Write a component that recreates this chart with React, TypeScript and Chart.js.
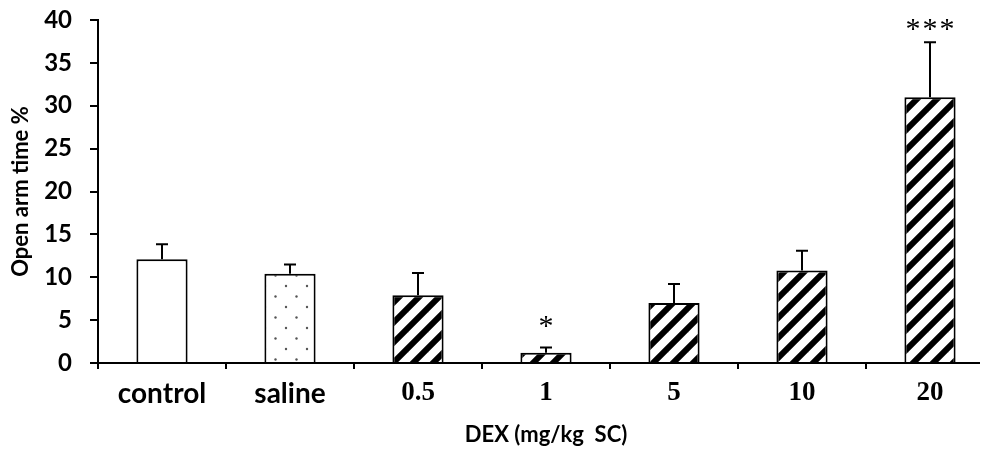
import React, { useEffect, useRef } from "react";
import { Chart, registerables } from "chart.js";

Chart.register(...registerables);

const categories = ["control", "saline", "0.5", "1", "5", "10", "20"];
const means = [12.1, 10.4, 7.9, 1.2, 7.0, 10.8, 31.0];
const errors = [1.75, 1.1, 2.6, 0.6, 2.2, 2.3, 6.4];
const fills = ["plain", "dots", "stripes", "stripes", "stripes", "stripes", "stripes"];
const significance = ["", "", "", "*", "", "", "***"];
const yMin = 0;
const yMax = 40;
const yStep = 5;
const xTitle = "DEX (mg/kg  SC)";
const yTitle = "Open arm time %";

function makeStripes(): CanvasPattern | string {
  const P = 20;
  const c = document.createElement("canvas");
  c.width = P;
  c.height = P;
  const g = c.getContext("2d");
  if (!g) return "#fff";
  g.fillStyle = "#fff";
  g.fillRect(0, 0, P, P);
  g.strokeStyle = "#000";
  g.lineWidth = 6;
  for (const k of [0, P, 2 * P]) {
    g.beginPath();
    g.moveTo(-P, k + P);
    g.lineTo(2 * P, k - 2 * P);
    g.stroke();
  }
  return g.createPattern(c, "repeat") || "#fff";
}

function makeDots(): CanvasPattern | string {
  const P = 21;
  const c = document.createElement("canvas");
  c.width = P;
  c.height = P;
  const g = c.getContext("2d");
  if (!g) return "#fff";
  g.fillStyle = "#fff";
  g.fillRect(0, 0, P, P);
  g.fillStyle = "#555";
  for (const [x, y] of [[5, 5], [15.5, 15.5]]) {
    g.beginPath();
    g.arc(x, y, 1.2, 0, Math.PI * 2);
    g.fill();
  }
  return g.createPattern(c, "repeat") || "#fff";
}

const errorBarPlugin = {
  id: "errorBars",
  afterDatasetsDraw(chart: any) {
    const meta = chart.getDatasetMeta(0);
    const y = chart.scales.y;
    const ctx = chart.ctx;
    ctx.save();
    ctx.strokeStyle = "#000";
    ctx.lineWidth = 2;
    meta.data.forEach((bar: any, i: number) => {
      const x = bar.x;
      const top = y.getPixelForValue(means[i] + errors[i]);
      const base = y.getPixelForValue(means[i]);
      ctx.beginPath();
      ctx.moveTo(x, base);
      ctx.lineTo(x, top);
      ctx.moveTo(x - 6, top);
      ctx.lineTo(x + 6, top);
      ctx.stroke();
      const s = significance[i];
      if (s) {
        ctx.fillStyle = "#000";
        ctx.font = "30px 'Liberation Serif'";
        ctx.textAlign = "center";
        ctx.textBaseline = "alphabetic";
        (ctx as any).letterSpacing = s.length > 1 ? "2px" : "0px";
        const gap = s.length > 1 ? 4 : 13;
        ctx.fillText(s, x + (s.length > 1 ? 1 : 0), top - gap);
        (ctx as any).letterSpacing = "0px";
      }
    });
    ctx.restore();
  },
};

export default function App() {
  const ref = useRef<HTMLCanvasElement | null>(null);

  useEffect(() => {
    const canvas = ref.current;
    if (!canvas) return;
    const bg = fills.map((f) =>
      f === "stripes" ? makeStripes() : f === "dots" ? makeDots() : "#ffffff"
    );
    const chart = new Chart(canvas, {
      type: "bar",
      data: {
        labels: categories,
        datasets: [
          {
            data: means,
            backgroundColor: bg as any,
            borderColor: "#000",
            borderWidth: 2,
            barPercentage: 0.4,
            categoryPercentage: 1.0,
          },
        ],
      },
      options: {
        responsive: false,
        animation: false,
        devicePixelRatio: 1,
        layout: { padding: { top: 12, right: 14, left: 0, bottom: 0 } },
        plugins: {
          legend: { display: false },
          tooltip: { enabled: false },
        },
        scales: {
          x: {
            grid: {
              display: true,
              drawOnChartArea: false,
              drawTicks: true,
              tickLength: 6,
              color: "#000",
              lineWidth: 2,
              offset: true,
            },
            border: { display: true, color: "#000", width: 2 },
            ticks: {
              color: "#000",
              padding: 8,
              maxRotation: 0,
              autoSkip: false,
              font: (c: any) =>
                c.index < 2
                  ? { family: "Lato", weight: "bold", size: 28, lineHeight: 1.2 }
                  : { family: "'Liberation Serif'", weight: "bold", size: 27, lineHeight: 1.2 },
            },
            title: {
              display: true,
              text: xTitle,
              color: "#000",
              font: { family: "Lato", weight: "bold", size: 22, lineHeight: 1.2 },
              padding: { top: 0, bottom: 2 },
            },
            afterFit: (s: any) => {
              s.height = 87;
              s.paddingLeft = 0;
              s.paddingRight = 0;
            },
          },
          y: {
            min: yMin,
            max: yMax,
            grid: {
              display: true,
              drawOnChartArea: false,
              drawTicks: true,
              tickLength: 8,
              color: "#000",
              lineWidth: 2,
            },
            border: { display: true, color: "#000", width: 2 },
            ticks: {
              stepSize: yStep,
              color: "#000",
              padding: 18,
              font: { family: "Lato", weight: "bold", size: 24, lineHeight: 1 },
            },
            title: {
              display: true,
              text: yTitle,
              color: "#000",
              font: { family: "Lato", weight: "bold", size: 22, lineHeight: 1.2 },
              padding: { top: 0, bottom: 0 },
            },
            afterFit: (s: any) => {
              s.width = 90;
              s.paddingTop = 0;
              s.paddingBottom = 0;
            },
          },
        },
      },
      plugins: [errorBarPlugin],
    });
    return () => chart.destroy();
  }, []);

  return (
    <div style={{ width: 980, height: 442, overflow: "hidden" }}>
      <canvas ref={ref} width={1000} height={442} style={{ display: "block", width: 1000, height: 442 }} />
    </div>
  );
}
